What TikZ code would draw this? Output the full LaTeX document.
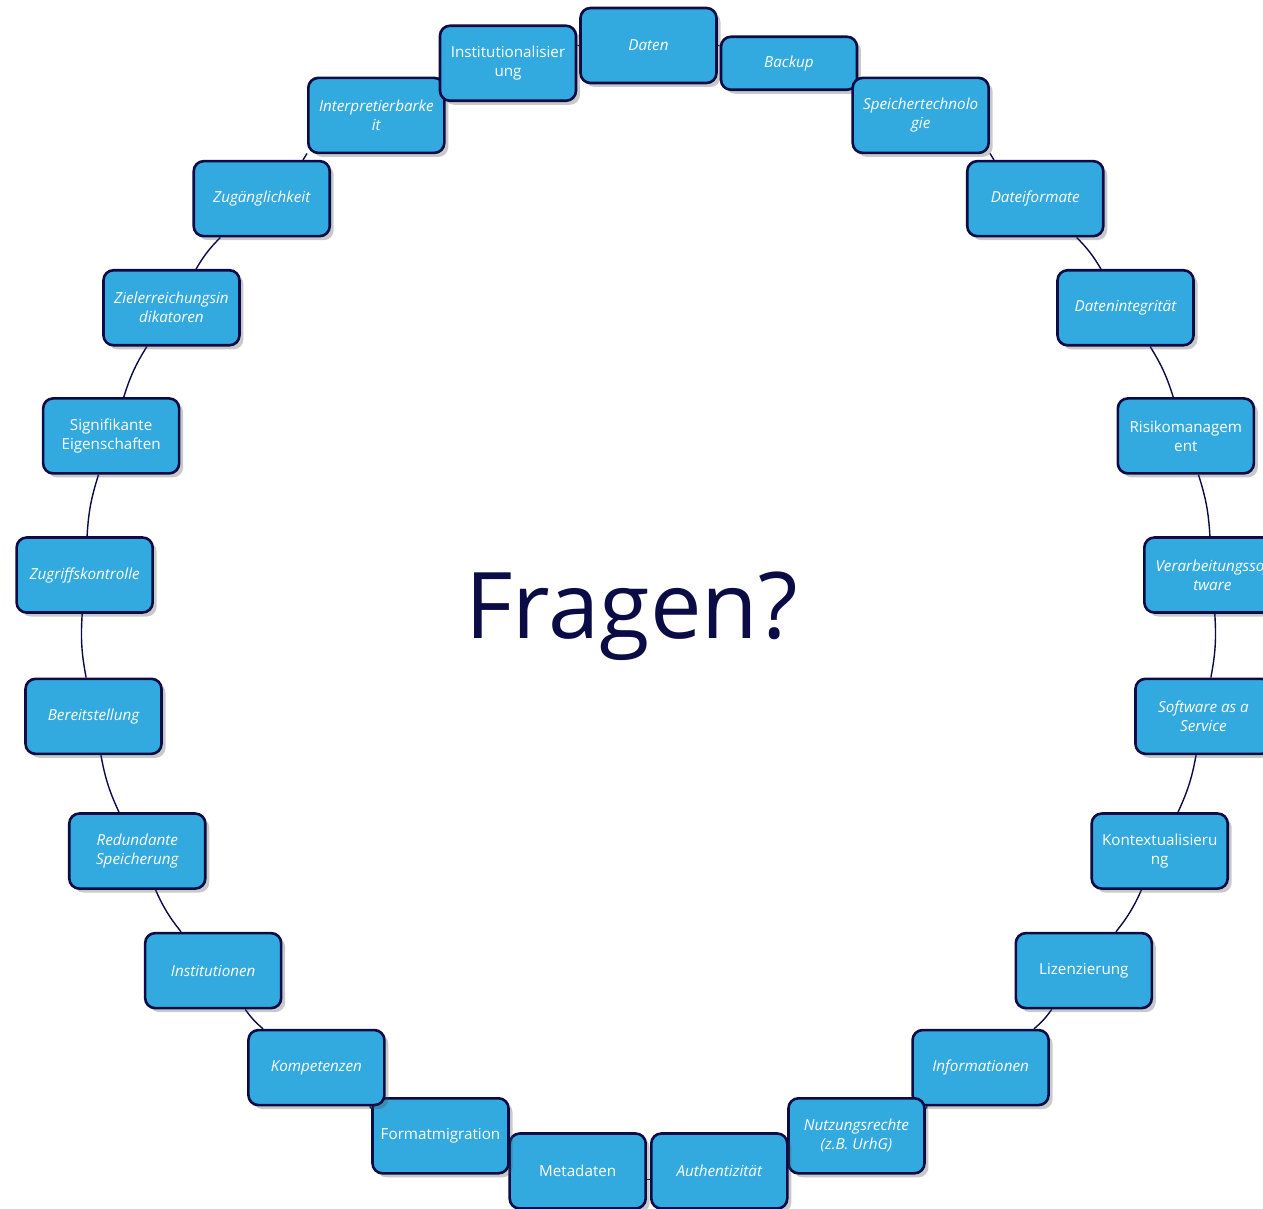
\documentclass[tikz,border=0pt]{standalone}
\usepackage{fontspec}
\setmainfont{Open Sans}
\usetikzlibrary{shadows,backgrounds}
\definecolor{boxblue}{HTML}{33AADF}
\definecolor{navy}{HTML}{0B0B45}

\begin{document}
\begin{tikzpicture}[x=0.5pt, y=0.5pt,
	topic/.style={draw=navy, line width=1.3pt, fill=boxblue, rounded corners=5pt,
		minimum width=68pt, minimum height=37.5pt, inner sep=2pt, align=center,
		text=white, font=\fontsize{7.6}{9.5}\selectfont,
		drop shadow={shadow xshift=2pt, shadow yshift=-2pt, opacity=.3, fill=black!70}},
	it/.style={topic, font=\fontsize{7.6}{9.5}\selectfont\itshape},
	up/.style={topic},
	short/.style={it, minimum height=26.5pt},
	link/.style={navy, line width=0.7pt}]
	\useasboundingbox (-648.5,-598.5) rectangle (614.5,610.5);
	% ring of topics, clockwise from the top
	\foreach \txt/\shape [count=\i from 0] in {
		Daten/it, Backup/short, {Speichertechnolo\\gie}/it, Dateiformate/it,
		Datenintegrität/it, {Risikomanagem\\ent}/up, {Verarbeitungssof\\tware}/it,
		{Software as a\\Service}/it, {Kontextualisieru\\ng}/up, Lizenzierung/up,
		Informationen/it, {Nutzungsrechte\\(z.B. UrhG)}/it, Authentizität/it,
		Metadaten/up, Formatmigration/up, Kompetenzen/it, Institutionen/it,
		{Redundante\\Speicherung}/it, Bereitstellung/it, Zugriffskontrolle/it,
		{Signifikante\\Eigenschaften}/up, {Zielerreichungsin\\dikatoren}/it,
		Zugänglichkeit/it, {Interpretierbarke\\it}/it, {Institutionalisier\\ung}/up}
		\node[\shape] (n\i) at ({90-14.4*\i}:565) {\txt};
	\begin{scope}[on background layer]
		\foreach \i [evaluate=\i as \j using {int(mod(\i+1,25))}] in {0,...,24}
			\draw[link] (n\i) to[bend left=7.2] (n\j);
	\end{scope}
	\node[text=navy, font=\fontsize{46}{56}\selectfont] (fragen) at (-17,-6) {Fragen?};
\end{tikzpicture}
\end{document}
